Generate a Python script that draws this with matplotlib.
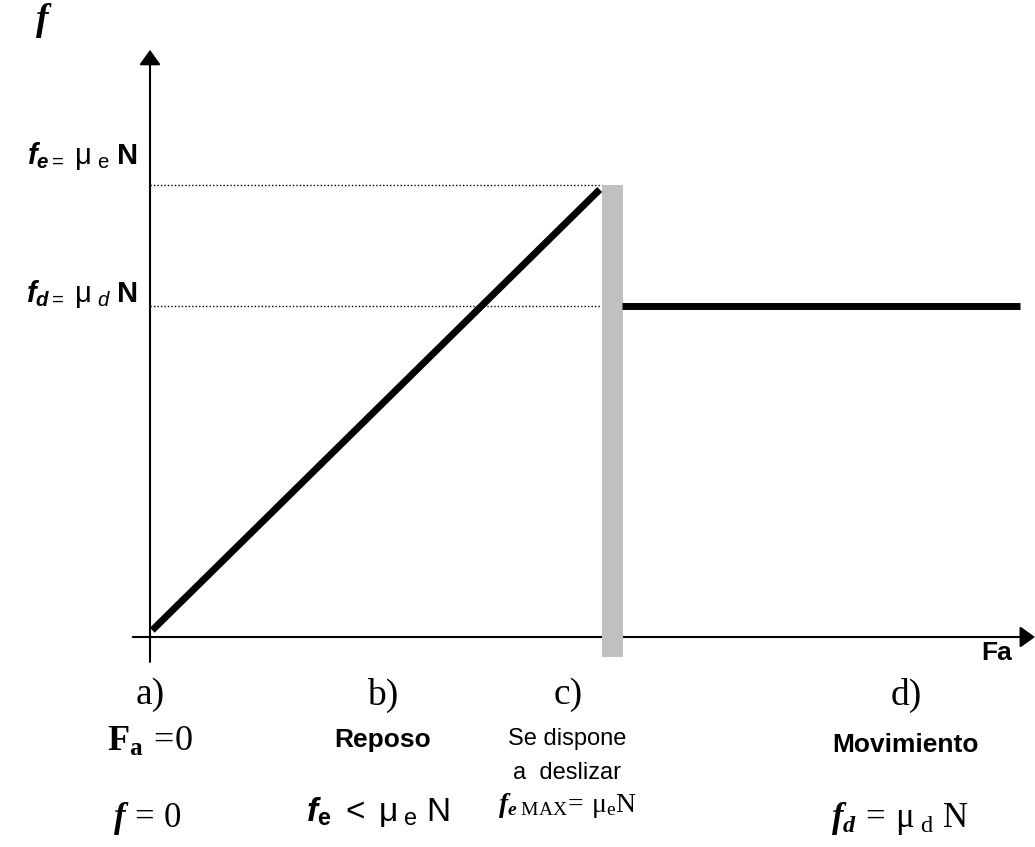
import matplotlib
matplotlib.use("Agg")
import matplotlib.pyplot as plt

# fonts for the mixed Times / Arial labels (mathtext custom fontset)
plt.rcParams['mathtext.fontset'] = 'custom'
plt.rcParams['mathtext.rm'] = 'Liberation Serif'
plt.rcParams['mathtext.it'] = 'Liberation Serif:italic:bold'
plt.rcParams['mathtext.bf'] = 'Liberation Serif:bold'
plt.rcParams['mathtext.bfit'] = 'Liberation Sans:italic:bold'
plt.rcParams['mathtext.sf'] = 'Liberation Sans'
plt.rcParams['mathtext.tt'] = 'Liberation Sans:bold'
plt.rcParams['mathtext.cal'] = 'Liberation Sans:italic'

# data (Fa on x, f on y, slip point = 1)
fa_reposo = [0.005, 0.995]
f_reposo = [0.015, 0.99]
fe_max = 1.0
fd = 0.733
fa_slip = 1.0
fa_mov = [1.044, 1.925]
f_mov = [fd, fd]
bar_width = 0.0465
bar_bottom = -0.044

W, H = 1035, 847
fig = plt.figure(figsize=(W / 100, H / 100), dpi=100)
ax = fig.add_axes([0, 0, 1, 1])
ax.set_xlim(-150 / 452, (W - 150) / 452)
ax.set_ylim(-(H - 637) / 452, 637 / 452)
ax.axis('off')

# axes with arrows
arrow = dict(arrowstyle='-|>,head_length=0.7,head_width=0.5', color='black',
             lw=1.5, mutation_scale=13, shrinkA=0, shrinkB=0)
ax.annotate('', xy=(0, 1.299), xytext=(0, -0.055), arrowprops=arrow)
ax.annotate('', xy=(1.958, 0), xytext=(-0.038, 0), arrowprops=arrow)

# dotted guide lines
ax.plot([0, fa_slip], [fe_max, fe_max], color='black', lw=1, ls=(0, (1, 1.5)))
ax.plot([0, fa_mov[0]], [fd, fd], color='black', lw=1, ls=(0, (1, 1.5)))

# gray band where the block starts to slide
ax.bar(fa_slip, fe_max - bar_bottom, width=bar_width, bottom=bar_bottom,
       align='edge', color='#c0c0c0', zorder=3)

# friction curve
ax.plot(fa_reposo, f_reposo, color='black', lw=5, solid_capstyle='butt', zorder=4)
ax.plot(fa_mov, f_mov, color='black', lw=5, solid_capstyle='butt', zorder=4)


def px(x, y):
    return x / W, 1 - y / H


serif = 'Liberation Serif'
sans = 'Liberation Sans'

fig.text(*px(44, 20), r'$\mathit{f}$', fontsize=27, ha='center', va='center')
fig.text(*px(138, 156), r'$\mathbfit{f}_{\mathbfit{e}\mathsf{=}}\ \mathsf{\mu}_{\ \mathsf{e}}\ \mathtt{N}$',
         fontsize=21, ha='right', va='center')
fig.text(*px(138, 294), r'$\mathbfit{f}_{\mathbfit{d}\mathsf{=}}\ \mathsf{\mu}_{\ \mathcal{d}}\ \mathtt{N}$',
         fontsize=21, ha='right', va='center')
fig.text(*px(997, 653), 'Fa', fontsize=19, fontweight='bold', family=sans,
         ha='center', va='center')

# state labels under the axis
fig.text(*px(150, 695), 'a)', fontsize=27, family=serif, ha='center', va='center')
fig.text(*px(150, 741), r'$\mathbf{F}_{\mathbf{a}}\,\mathrm{=}\!\mathrm{0}$', fontsize=26,
         ha='center', va='center')
fig.text(*px(148, 818), r'$\mathit{f}\,\mathrm{=}\,\mathrm{0}$', fontsize=25,
         ha='center', va='center')

fig.text(*px(383, 695), 'b)', fontsize=27, family=serif, ha='center', va='center')
fig.text(*px(383, 740), 'Reposo', fontsize=19, fontweight='bold', family=sans,
         ha='center', va='center')
fig.text(*px(378, 812), r'$\mathbfit{f}_{\mathtt{e}}\ \mathsf{<}\ \mathsf{\mu}_{\ \mathsf{e}}\ \mathsf{N}$',
         fontsize=24, ha='center', va='center')

fig.text(*px(568, 695), 'c)', fontsize=27, family=serif, ha='center', va='center')
fig.text(*px(567, 739), 'Se dispone', fontsize=17, family=sans, ha='center', va='center')
fig.text(*px(567, 773), 'a  deslizar', fontsize=17, family=sans, ha='center', va='center')
fig.text(*px(567, 805), r'$\mathit{f}_{\mathit{e}\ \mathrm{MAX}}\!\mathrm{=}\,\mathrm{\mu_{e}N}$',
         fontsize=20, ha='center', va='center')

fig.text(*px(906, 695), 'd)', fontsize=27, family=serif, ha='center', va='center')
fig.text(*px(905, 745), 'Movimiento', fontsize=19, fontweight='bold', family=sans,
         ha='center', va='center')
fig.text(*px(900, 818), r'$\mathit{f}_{\mathit{d}}\,\mathrm{=}\,\mathrm{\mu}_{\ \mathrm{d}}\ \mathrm{N}$',
         fontsize=25, ha='center', va='center')

fig.savefig('out.png', dpi=100)
